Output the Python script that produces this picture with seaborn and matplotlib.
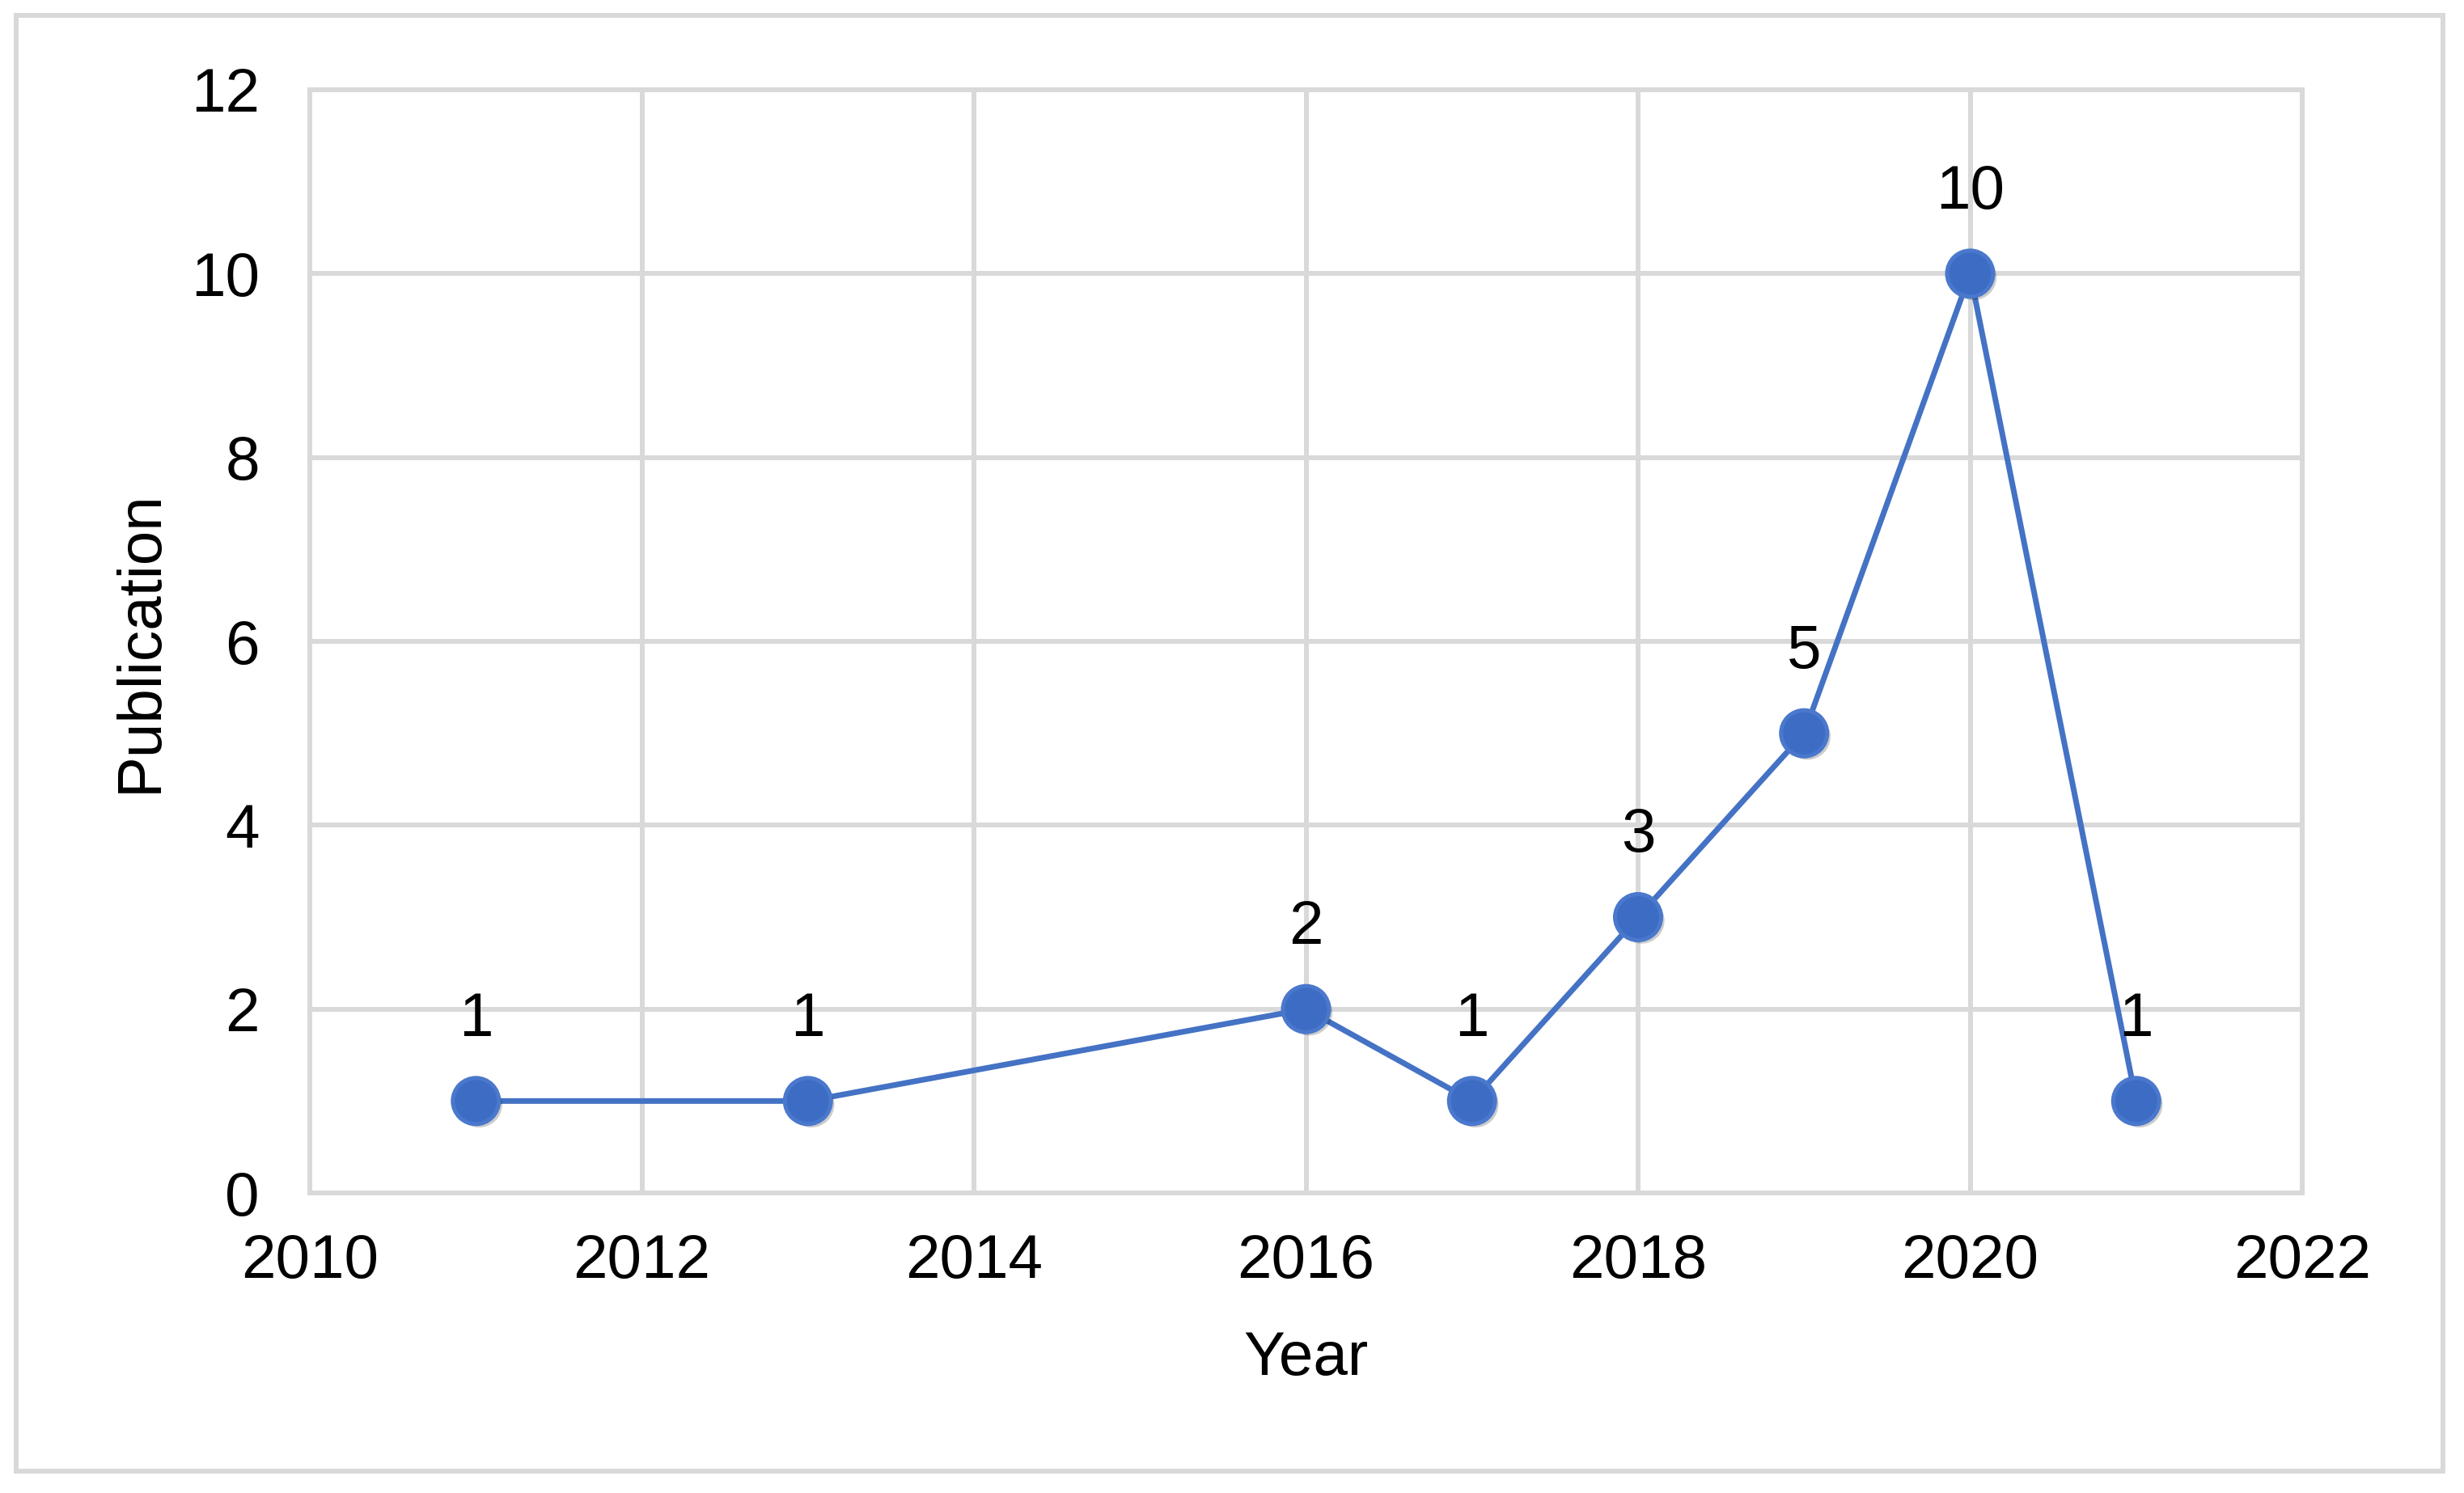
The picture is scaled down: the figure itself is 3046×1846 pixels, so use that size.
import matplotlib
matplotlib.use("Agg")
import matplotlib.pyplot as plt
import matplotlib.patheffects as pe
from matplotlib.patches import Rectangle
import seaborn as sns
import pandas as pd

years = [2011, 2013, 2016, 2017, 2018, 2019, 2020, 2021]
publications = [1, 1, 2, 1, 3, 5, 10, 1]
x_ticks = [2010, 2012, 2014, 2016, 2018, 2020, 2022]
y_ticks = [0, 2, 4, 6, 8, 10, 12]

df = pd.DataFrame({"Year": years, "Publication": publications})

sns.set_theme(style="white")
plt.rcParams["font.family"] = ["Liberation Sans", "DejaVu Sans"]

DPI = 200
W, H = 3046, 1846
fig = plt.figure(figsize=(W / DPI, H / DPI), dpi=DPI)
fig.patch.set_facecolor("white")

def px2pt(p):
    return p * 72.0 / DPI

L, R, T, B = 383, 2846, 111, 1475
ax = fig.add_axes([L / W, 1 - B / H, (R - L) / W, (B - T) / H])
ax.set_facecolor("white")

grid_c = "#d9d9d9"
lw_grid = px2pt(6)
fs = 27.5
blue = "#4472C4"

sns.lineplot(data=df, x="Year", y="Publication", ax=ax, color=blue,
             linewidth=px2pt(7), zorder=4)
sns.scatterplot(data=df, x="Year", y="Publication", ax=ax, s=px2pt(57) ** 2,
                color="#3d6cc4", edgecolor="#4a78cc", linewidth=px2pt(5),
                zorder=5,
                path_effects=[pe.SimplePatchShadow(offset=(1.5, -1.5), alpha=0.2,
                                                    shadow_rgbFace="black"),
                              pe.Normal()])

ax.set_xlim(2010, 2022)
ax.set_ylim(0, 12)
ax.set_xticks(x_ticks)
ax.set_yticks(y_ticks)
ax.set_xticklabels([str(v) for v in x_ticks])
ax.set_yticklabels([str(v) for v in y_ticks])
ax.grid(True, color=grid_c, linewidth=lw_grid, zorder=0)
ax.set_axisbelow(True)
for s in ax.spines.values():
    s.set_color(grid_c)
    s.set_linewidth(lw_grid)
ax.tick_params(axis="both", length=0, labelsize=fs, colors="black")
ax.tick_params(axis="x", pad=px2pt(50))
ax.tick_params(axis="y", pad=px2pt(62))

for xv, yv in zip(years, publications):
    ax.annotate(str(yv), (xv, yv), xytext=(0, px2pt(100)),
                textcoords="offset points", ha="center", va="center",
                fontsize=fs, color="black", zorder=6)

ax.set_xlabel("Year", fontsize=fs, color="black")
ax.xaxis.label.set_va("baseline")
ax.xaxis.set_label_coords(0.5, -(1700 - B) / (B - T))
ax.set_ylabel("Publication", fontsize=fs, color="black")
ax.yaxis.label.set_va("baseline")
ax.yaxis.set_label_coords(-(L - 194) / (R - L), 0.5)

border = Rectangle((19.5 / W, 1 - 1819 / H), (3020 - 19.5) / W, (1819 - 19) / H,
                   transform=fig.transFigure, fill=False, edgecolor=grid_c,
                   linewidth=lw_grid, zorder=0)
fig.patches.append(border)

fig.savefig("out.png", dpi=DPI, facecolor="white")
